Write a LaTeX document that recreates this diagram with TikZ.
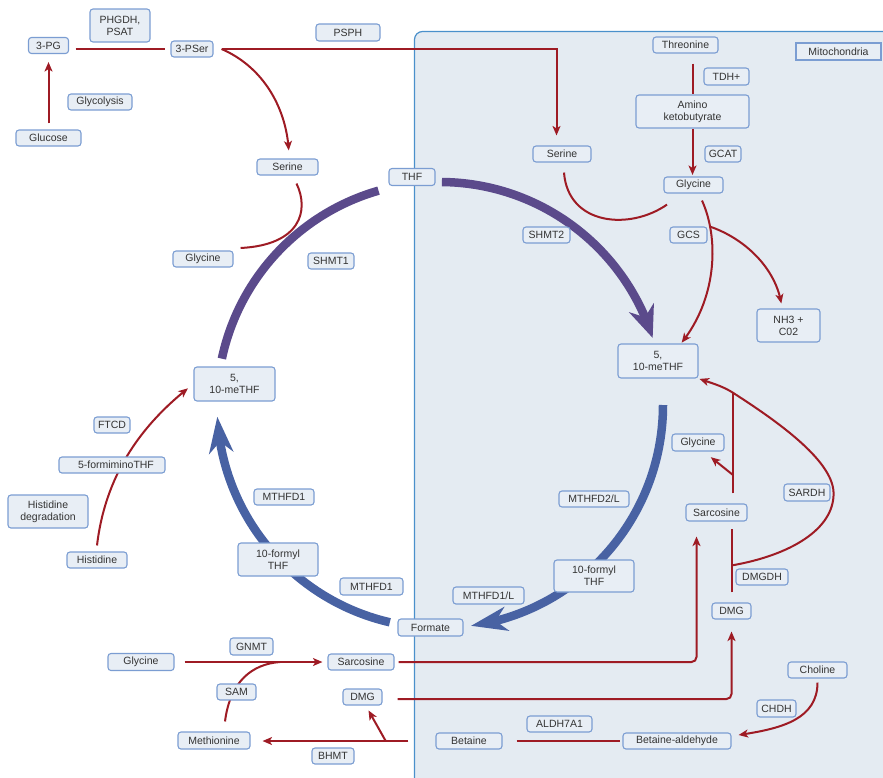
\documentclass[tikz,border=0pt]{standalone}
\usepackage{fontspec}
\setmainfont{Liberation Sans}
\usepackage{xcolor}
\usepackage{tikz}
\usetikzlibrary{arrows.meta, bending}

\definecolor{boxfill}{HTML}{E8EEF5}
\definecolor{boxline}{HTML}{7B9DD2}
\definecolor{mitofill}{HTML}{E4EBF2}
\definecolor{mitoline}{HTML}{4A90CB}
\definecolor{rxnred}{HTML}{9E1B24}
\definecolor{shmtpurple}{HTML}{5B4A8B}
\definecolor{mthfdblue}{HTML}{4862A3}
\definecolor{labelgray}{HTML}{333333}

\pgfdeclarelayer{bg}
\pgfdeclarelayer{links}
\pgfsetlayers{bg,links,main}

\begin{document}
\begin{tikzpicture}[
    x=1pt, y=-1pt,
    >=Stealth,
    every node/.style={font=\fontsize{10.5}{12}\selectfont, text=labelgray},
    met/.style={draw=boxline, fill=boxfill, rounded corners=3pt, line width=1.1pt, minimum height=16pt, inner sep=1pt, align=center},
    rxn/.style={draw=rxnred, line width=2pt},
    rxn_arrow/.style={rxn, -{Stealth[length=9.5pt, width=8pt, inset=2.5pt]}},
    shmt_line/.style={draw=shmtpurple, line width=8.5pt},
    shmt_flow/.style={shmt_line, -{Stealth[length=32pt, width=26pt, inset=10pt]}},
    mthfd_flow/.style={draw=mthfdblue, line width=8.5pt, -{Stealth[length=36pt, width=24pt, inset=11pt]}},
]
    \useasboundingbox (0,0) rectangle (883,777);

    % Mitochondria compartment
    \begin{pgfonlayer}{bg}
    \filldraw[fill=mitofill, draw=mitoline, line width=1.2pt] (414.5,800) [rounded corners=8pt] -- (414.5,31.5) [sharp corners] -- (900,31.5) -- (900,800) -- cycle;
    \end{pgfonlayer}

    % 1. Cytosol: serine synthesis
    \node[met, minimum width=40pt] (pg3) at (48.5,45.5) {3-PG};
    \node[met, minimum width=60pt, minimum height=33pt] (phgdh) at (120,25.5) {PHGDH,\\PSAT};
    \node[met, minimum width=42pt] (pser) at (192,49) {3-PSer};
    \node[met, minimum width=64pt, minimum height=17pt] (psph) at (348,32.5) {PSPH};
    \node[met, minimum width=64pt] (glycolysis) at (100,102) {Glycolysis};
    \node[met, minimum width=65pt] (glucose) at (48.5,138) {Glucose};
    \node[met, minimum width=61pt] (ser_c) at (287.5,167) {Serine};
    \node[met, minimum width=60pt] (gly_c) at (203,259) {Glycine};

    % 2. Cytosol: folate cycle
    \node[met, minimum width=46pt, minimum height=17pt] (thf) at (412,177) {THF};
    \node[met, minimum width=46pt] (shmt1) at (331,261) {SHMT1};
    \node[met, minimum width=81pt, minimum height=34pt] (methf_c) at (234.5,384) {5,\\10-meTHF};
    \node[met, minimum width=60pt] (mthfd1_a) at (284,497) {MTHFD1};
    \node[met, minimum width=80pt, minimum height=33pt] (fthf_c) at (278,559.5) {10-formyl\\THF};
    \node[met, minimum width=63pt, minimum height=17pt] (mthfd1_b) at (371.5,586.5) {MTHFD1};
    \node[met, minimum width=65pt, minimum height=17pt] (formate) at (430.5,627.5) {Formate};

    % 3. Cytosol: histidine degradation
    \node[met, minimum width=36pt] (ftcd) at (112,425) {FTCD};
    \node[met, minimum width=106pt] (fithf) at (112,465) {\hspace{8pt}5-formiminoTHF};
    \node[met, minimum width=80pt, minimum height=33pt] (hisdeg) at (48,511.5) {Histidine\\degradation};
    \node[met, minimum width=60pt] (his) at (97,560) {Histidine};

    % 4. Cytosol: methyl transfer
    \node[met, minimum width=43pt, minimum height=17pt] (gnmt) at (251.5,646.5) {GNMT};
    \node[met, minimum width=66pt, minimum height=17pt] (gly_b) at (141,662) {Glycine};
    \node[met, minimum width=66pt] (sarc_b) at (361,662) {Sarcosine};
    \node[met, minimum width=39pt] (sam) at (236.5,692) {SAM};
    \node[met, minimum width=39pt] (dmg_b) at (362.5,697) {DMG};
    \node[met, minimum width=72pt, minimum height=17pt] (met_b) at (214,740.5) {Methionine};
    \node[met, minimum width=42pt] (bhmt) at (333,756) {BHMT};

    % 5. Mitochondria
    \node[draw=boxline, fill=boxfill, line width=1.1pt, minimum width=85pt, minimum height=17pt, inner sep=1pt] (mito_lbl) at (838.5,51.5) {Mitochondria};
    \node[met, minimum width=65pt] (thr) at (685.5,45) {Threonine};
    \node[met, minimum width=45pt, minimum height=17pt] (tdh) at (726.5,76.5) {TDH+};
    \node[met, minimum width=113pt, minimum height=33pt] (akb) at (692.5,111.5) {Amino\\ketobutyrate};
    \node[met, minimum width=36pt] (gcat) at (723,154) {GCAT};
    \node[met, minimum width=58pt] (ser_m) at (562,154) {Serine};
    \node[met, minimum width=59pt] (gly_m) at (693.5,185) {Glycine};
    \node[met, minimum width=47pt] (shmt2) at (546.5,235) {SHMT2};
    \node[met, minimum width=37pt] (gcs) at (688.5,235) {GCS};
    \node[met, minimum width=63pt, minimum height=33pt] (nh3) at (788.5,325.5) {NH3 +\\C02};
    \node[met, minimum width=80pt, minimum height=34pt] (methf_m) at (658,361) {5,\\10-meTHF};
    \node[met, minimum width=52pt, minimum height=17pt] (gly_m2) at (698,442.5) {Glycine};
    \node[met, minimum width=46pt, minimum height=17pt] (sardh) at (807,492.5) {SARDH};
    \node[met, minimum width=61pt, minimum height=17pt] (sarc_m) at (716.5,512.5) {Sarcosine};
    \node[met, minimum width=70pt] (mthfd2) at (594,499) {MTHFD2/L};
    \node[met, minimum width=80pt, minimum height=32pt] (fthf_m) at (594,576) {10-formyl\\THF};
    \node[met, minimum width=71pt, minimum height=17pt] (mthfd1l) at (488.5,595.5) {MTHFD1/L};
    \node[met, minimum width=52pt] (dmgdh) at (762,577) {DMGDH};
    \node[met, minimum width=39pt] (dmg_m) at (731.5,611) {DMG};
    \node[met, minimum width=59pt] (choline) at (817.5,670) {Choline};
    \node[met, minimum width=39pt, minimum height=17pt] (chdh) at (776.5,708.5) {CHDH};
    \node[met, minimum width=65pt] (aldh) at (559.5,724) {ALDH7A1};
    \node[met, minimum width=66pt] (betaine) at (469,741) {Betaine};
    \node[met, minimum width=108pt] (betald) at (677,741) {Betaine-aldehyde};

    % --- Connections ---
    \begin{pgfonlayer}{links}
    % folate cycle
    \coordinate (cyc) at (440,405);
    \draw[shmt_line] ([shift={(106:223pt)}]cyc) arc[start angle=106, end angle=168, radius=223pt];
    \draw[shmt_flow] ([shift={(89.5:223pt)}]cyc) arc[start angle=89.5, end angle=17.5, radius=223pt];
    \draw[mthfd_flow] ([shift={(-103:223pt)}]cyc) arc[start angle=-103, end angle=-177, radius=223pt];
    \draw[mthfd_flow] ([shift={(0:223pt)}]cyc) arc[start angle=0, end angle=-82, radius=223pt];

    % serine synthesis
    \draw[rxn_arrow, shorten <=6pt, shorten >=8pt] (glucose) -- (pg3);
    \draw[rxn, shorten <=6.5pt, shorten >=5pt] (pg3.east |- pser.west) -- (pser.west);
    \draw[rxn_arrow, shorten <=8pt, shorten >=10pt] (pser.east) -| ([xshift=-5.5pt]ser_m.north);
    \draw[rxn_arrow, shorten >=8pt] ([xshift=8pt]pser.east) .. controls +(44,19) and +(0,-46) .. ([xshift=1.5pt]ser_c.north);
    \draw[rxn] ([xshift=9pt, yshift=-8pt]ser_c.south) .. controls +(13,27) and +(60,-3) .. ([xshift=7pt, yshift=11pt]gly_c.east);

    % threonine and glycine cleavage
    \draw[rxn, shorten <=10pt] (thr.south -| akb.north) -- (akb.north);
    \draw[rxn_arrow, shorten >=1.5pt] (akb.south) -- (akb.south |- gly_m.north);
    \draw[rxn] ([xshift=2pt, yshift=-10pt]ser_m.south) .. controls +(4,53) and +(-37,26) .. ([xshift=-26.5pt, yshift=-11pt]gly_m.south);
    \draw[rxn_arrow, shorten >=1pt] ([xshift=8.5pt, yshift=-7pt]gly_m.south) .. controls +(18,40) and +(35,-43) .. coordinate[pos=0.2] (gcs_branch) ([xshift=23pt]methf_m.north);
    \draw[rxn_arrow, shorten >=5pt] (gcs_branch) .. controls +(35,12) and +(-4,-39) .. ([xshift=-6.5pt]nh3.north);

    % sarcosine and dimethylglycine
    \coordinate (dmgdh_j) at ([yshift=37pt]dmg_m.north);
    \coordinate (sardh_j) at ([xshift=16pt, yshift=111pt]sarc_m.north);
    \draw[rxn, shorten <=10pt, shorten >=7pt] (dmg_m.north) -- (dmg_m.north |- sarc_m.south);
    \draw[rxn, shorten <=10pt] ([xshift=16pt]sarc_m.north) -- coordinate[pos=0.26] (gly_branch) (sardh_j);
    \draw[rxn_arrow, shorten >=1pt] (gly_branch) -- ([xshift=12pt, yshift=-5pt]gly_m2.south);
    \draw[rxn_arrow, shorten >=1pt] (dmgdh_j) .. controls +(58,-10) and +(1,37) .. ([xshift=3pt]sardh.east)
        .. controls +(-1,-33) and +(42,27) .. (sardh_j)
        .. controls +(-11,-7) and +(11,4) .. (methf_m.south east);
    \draw[rxn_arrow, rounded corners=5pt, shorten <=4pt, shorten >=15pt] (sarc_b.east) -| ([xshift=-20pt]sarc_m.south);
    \draw[rxn_arrow, rounded corners=5pt, shorten <=15pt, shorten >=12pt] ([yshift=-2pt]dmg_b.east) -| (dmg_m.south);

    % methyl transfer
    \draw[rxn_arrow, shorten <=10pt, shorten >=5pt] (gly_b) -- coordinate[pos=0.69] (gnmt_j) (sarc_b);
    \draw[rxn] ([xshift=11pt, yshift=10pt]met_b.north) .. controls +(5,-40) and +(-28,2) .. (gnmt_j);
    \draw[rxn_arrow, shorten <=27pt, shorten >=12pt] (betaine.west) -- coordinate[pos=0.269] (bhmt_j) (betaine.west -| met_b.east);
    \draw[rxn_arrow, shorten >=1pt] (bhmt_j) -- ([xshift=5.5pt, yshift=-4pt]dmg_b.south);
    \draw[rxn, shorten <=14pt, shorten >=2pt] (betaine) -- (betald);
    \draw[rxn_arrow] ([yshift=-4pt]choline.south) .. controls +(0,38) and +(40,-6) .. ([xshift=7pt, yshift=6pt]betald.east);

    % histidine degradation
    \draw[rxn_arrow, shorten >=7pt] ([yshift=6pt]his.north) .. controls +(9,-76) and +(-47,36) .. (methf_c.west);
    \end{pgfonlayer}

\end{tikzpicture}
\end{document}
